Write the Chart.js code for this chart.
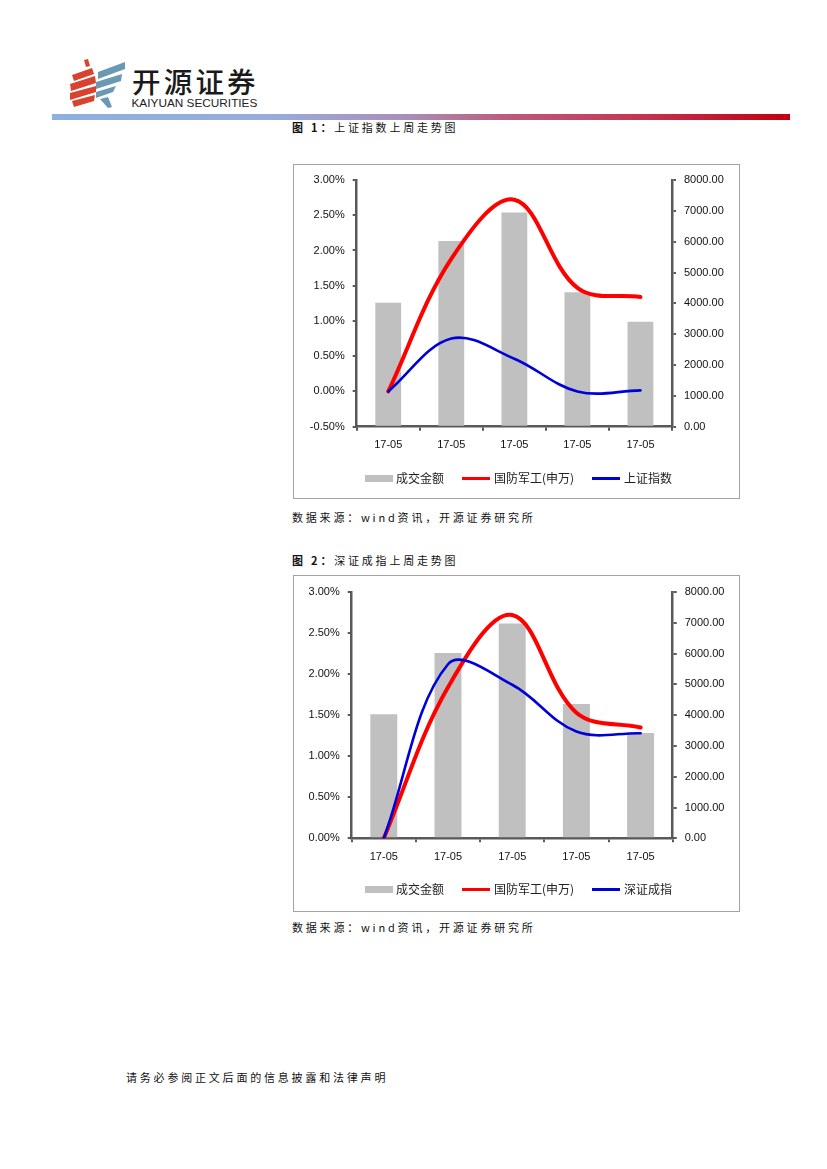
<!DOCTYPE html>
<html>
<head>
<meta charset="utf-8">
<script src="https://cdn.jsdelivr.net/npm/chart.js@4/dist/chart.umd.min.js"></script>
<style>
  html, body { margin:0; padding:0; background:#fff; }
  body { width:827px; height:1169px; position:relative; overflow:hidden; font-family:"Noto Sans CJK SC", sans-serif; color:#111; }
  .abs { position:absolute; }
  .cap { position:absolute; font-size:11px; letter-spacing:2.8px; line-height:14px; white-space:nowrap; color:#111; }
  .cap b { font-weight:600; }
  .box { position:absolute; border:1.5px solid #a3a3a3; box-sizing:border-box; pointer-events:none; }
  .chartwrap { position:absolute; }
  .leg { position:absolute; font-size:12px; line-height:14px; color:#222; white-space:nowrap; }
  .sw { position:absolute; }
</style>
</head>
<body>
<!-- logo -->
<svg class="abs" style="left:0;top:0" width="140" height="120">
  <g fill="#d8432f">
    <polygon points="84,60 88,59 90,66 86,67"/>
    <polygon points="72,75 92,68 94,74 74,81"/>
    <polygon points="70,84 95,76 96,83 71,91"/>
    <polygon points="70,93 96,86 96,92 70,100"/>
    <polygon points="72,101 95,95 94,101 74,107"/>
  </g>
  <g fill="#6b98b2">
    <polygon points="98,72 125,62 125,69 98,79"/>
    <polygon points="96,82 122,74 121,81 96,89"/>
    <polygon points="96,92 116,86 113,92 96,98"/>
    <polygon points="100,99 108,97 112,107 108,108"/>
  </g>
</svg>
<div class="abs" style="left:132px;top:66px;font-size:28.5px;line-height:30px;letter-spacing:3.2px;font-weight:500;color:#1a1a1a;">开源证券</div>
<div class="abs" style="left:131.5px;top:96px;font-family:'Liberation Sans',Arial,sans-serif;font-size:11.8px;line-height:14px;color:#222;">KAIYUAN SECURITIES</div>
<div class="abs" style="left:52px;top:114px;width:738px;height:6px;background:linear-gradient(to right,#8cb0e0 0%,#98abdc 30%,#a98fb8 48%,#bb5a7c 62%,#c23a55 78%,#c00012 100%);"></div>

<div class="cap" style="left:292px;top:120px;"><b>图 1：</b>上证指数上周走势图</div>
<div class="cap" style="left:292px;top:510px;">数据来源：wind资讯，开源证券研究所</div>
<div class="cap" style="left:292px;top:553px;"><b>图 2：</b>深证成指上周走势图</div>
<div class="cap" style="left:292px;top:920px;">数据来源：wind资讯，开源证券研究所</div>
<div class="cap" style="left:126px;top:1070px;">请务必参阅正文后面的信息披露和法律声明</div>

<!-- chart 1 -->
<div class="chartwrap" style="left:294px;top:165px;width:445px;height:333px;"><canvas id="c1"></canvas></div>
<div class="box" style="left:293px;top:164px;width:447px;height:335px;"></div>
<div class="sw" style="left:365px;top:475px;width:28px;height:7px;background:#c0c0c0;"></div>
<div class="leg" style="left:396px;top:471px;">成交金额</div>
<div class="sw" style="left:462px;top:476.5px;width:28px;height:3.5px;background:#ff0000;"></div>
<div class="leg" style="left:494px;top:471px;">国防军工(申万)</div>
<div class="sw" style="left:592px;top:476.5px;width:28px;height:3px;background:#0000d8;"></div>
<div class="leg" style="left:624px;top:471px;">上证指数</div>

<!-- chart 2 -->
<div class="chartwrap" style="left:294px;top:576px;width:445px;height:335px;"><canvas id="c2"></canvas></div>
<div class="box" style="left:293px;top:575px;width:447px;height:337px;"></div>
<div class="sw" style="left:365px;top:886px;width:28px;height:7px;background:#c0c0c0;"></div>
<div class="leg" style="left:396px;top:882px;">成交金额</div>
<div class="sw" style="left:462px;top:887.5px;width:28px;height:3.5px;background:#ff0000;"></div>
<div class="leg" style="left:494px;top:882px;">国防军工(申万)</div>
<div class="sw" style="left:592px;top:887.5px;width:28px;height:3px;background:#0000d8;"></div>
<div class="leg" style="left:624px;top:882px;">深证成指</div>

<script>
const categories = ['17-05', '17-05', '17-05', '17-05', '17-05'];

// Figure 1
const turnover1 = [4020, 6020, 6950, 4360, 3400];
const defense1 = [0.00, 1.88, 2.72, 1.47, 1.34];
const shIndex = [0.00, 0.75, 0.465, 0.00, 0.015];
const leftTicks1 = [-0.5, 0, 0.5, 1.0, 1.5, 2.0, 2.5, 3.0];

// Figure 2
const turnover2 = [4030, 6020, 6980, 4360, 3420];
const defense2 = [0.00, 1.84, 2.72, 1.53, 1.35];
const szIndex = [0.00, 2.12, 1.87, 1.30, 1.28];
const leftTicks2 = [0, 0.5, 1.0, 1.5, 2.0, 2.5, 3.0];

const rightTicks = [0, 1000, 2000, 3000, 4000, 5000, 6000, 7000, 8000];

const labelBar = '成交金额';
const labelDefense = '国防军工(申万)';

const AXIS = '#595959';
const tickFont = { family: "'Liberation Sans', Arial, sans-serif", size: 11 };

function makeChart(id, bars, red, blue, leftTicks, blueLabel, geo) {
  const ctx = document.getElementById(id);
  return new Chart(ctx, {
    data: {
      labels: categories,
      datasets: [
        { type: 'line', label: blueLabel, data: blue, yAxisID: 'y', borderColor: '#0000d8', borderWidth: 2.6,
          pointRadius: 0, tension: 0.36, order: 1, borderCapStyle: 'round', fill: false },
        { type: 'line', label: labelDefense, data: red, yAxisID: 'y', borderColor: '#ff0000', borderWidth: 4,
          pointRadius: 0, tension: 0.36, order: 2, borderCapStyle: 'round', fill: false },
        { type: 'bar', label: labelBar, data: bars, yAxisID: 'y1', backgroundColor: '#c0c0c0',
          barPercentage: geo.barPct, categoryPercentage: 1.0, order: 3 }
      ]
    },
    options: {
      responsive: true,
      maintainAspectRatio: false,
      animation: false,
      events: [],
      layout: { padding: { top: geo.top, left: 0, right: 0, bottom: 0 } },
      plugins: { legend: { display: false }, tooltip: { enabled: false } },
      scales: {
        x: {
          type: 'category',
          offset: true,
          grid: { offset: true, drawOnChartArea: false, drawTicks: true, tickLength: 4, color: AXIS, lineWidth: 2 },
          border: { display: true, color: AXIS, width: 2.5 },
          ticks: { color: '#111', font: tickFont, padding: 8, maxRotation: 0, autoSkip: false },
          afterFit: s => { s.height = geo.bottom; }
        },
        y: {
          position: 'left',
          min: leftTicks[0],
          max: leftTicks[leftTicks.length - 1],
          afterBuildTicks: s => { s.ticks = leftTicks.map(v => ({ value: v })); },
          grid: { drawOnChartArea: false, drawTicks: true, tickLength: 4, color: AXIS, lineWidth: 2 },
          border: { display: true, color: AXIS, width: 2.5 },
          ticks: { color: '#111', font: tickFont, padding: 8, callback: v => Number(v).toFixed(2) + '%' },
          afterFit: s => { s.width = geo.left; }
        },
        y1: {
          position: 'right',
          min: rightTicks[0],
          max: rightTicks[rightTicks.length - 1],
          afterBuildTicks: s => { s.ticks = rightTicks.map(v => ({ value: v })); },
          grid: { drawOnChartArea: false, drawTicks: true, tickLength: 4, color: AXIS, lineWidth: 2 },
          border: { display: true, color: AXIS, width: 2.5 },
          ticks: { color: '#111', font: tickFont, padding: 8, callback: v => Number(v).toFixed(2) },
          afterFit: s => { s.width = geo.right; }
        }
      }
    }
  });
}

makeChart('c1', turnover1, defense1, shIndex, leftTicks1, '上证指数',
  { top: 15, bottom: 71.3, left: 62.7, right: 67, barPct: 0.41 });
makeChart('c2', turnover2, defense2, szIndex, leftTicks2, '深证成指',
  { top: 16, bottom: 72.7, left: 57.7, right: 66.3, barPct: 0.42 });
</script>
</body>
</html>
